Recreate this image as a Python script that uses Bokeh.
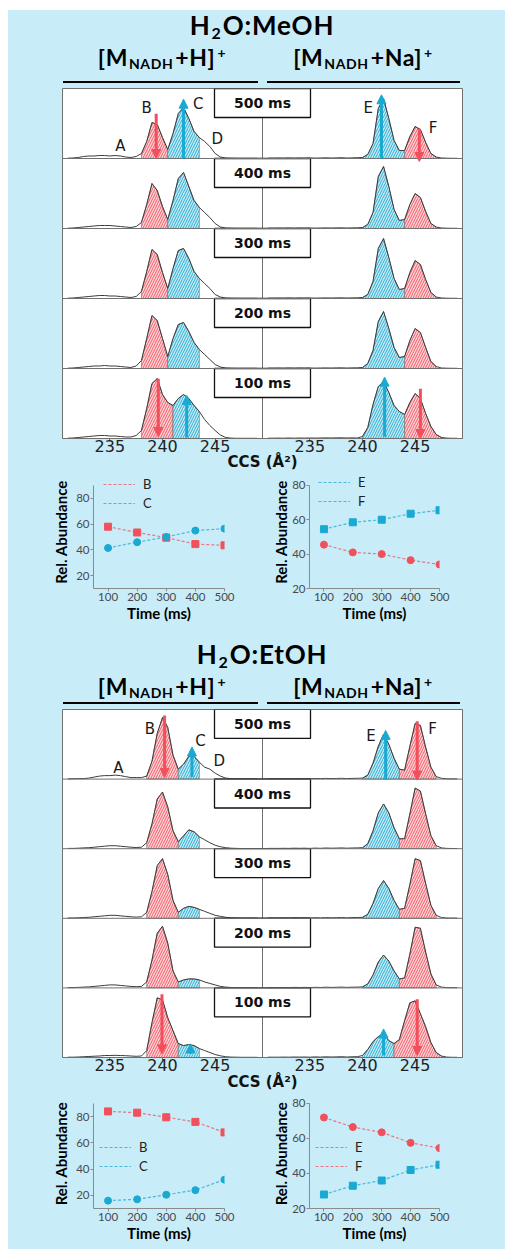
import numpy as np
from bokeh.plotting import figure
from bokeh.models import (Range1d, FixedTicker, ColumnDataSource, Arrow, NormalHead,
                          Legend, LegendItem, Div, Spacer, Span, CDSView, IndexFilter)
from bokeh.layouts import column, row
from bokeh.embed import file_html
from bokeh.resources import INLINE
from bokeh.core.properties import value

BG = "#c9ecf9"
RED = "#f24f5c"
BLUE = "#19a9d2"
RED_FILL = "#fcd3d6"
BLUE_FILL = "#c6eaf4"
TRACE = "#3c3c3c"

# ---------------- data ----------------
ccs = [231.0, 231.5, 232.0, 232.5, 233.0, 233.5, 234.0, 234.5, 235.0, 235.5,
       236.0, 236.5, 237.0, 237.5, 238.0, 238.5, 239.0, 239.5, 240.0, 240.5,
       241.0, 241.5, 242.0, 242.5, 243.0, 243.5, 244.0, 244.5, 245.0, 245.5,
       246.0, 246.5, 247.0, 247.5, 248.0, 248.5, 249.0]
ccs_ticks = [235, 240, 245]
time_labels = ["500 ms", "400 ms", "300 ms", "200 ms", "100 ms"]
time_ms = [100, 200, 300, 400, 500]

# H2O:MeOH  [M+H]+  (rows 500..100 ms)
meoh_h_500 = [0.3,0.5,1,2,2.5,2.5,3,3,2.5,3,2.5,1.5,1,2,5,17,36,34,21,9,25,45,51,40,27,21,17,12,5,1.5,0.5,0.3,0.2,0.2,0.2,0.2,0.2]
meoh_h_400 = [0.3,0.5,1,1.5,2,2.5,3,3,3,2.5,2,1.5,1,2,6,24,45,38,22,9,28,50,56,42,28,21,16,11,5,1.5,0.5,0.3,0.2,0.2,0.2,0.2,0.2]
meoh_h_300 = [0.3,0.5,1,1.5,2,2.5,3,3,2.5,2.5,2,1.5,1,2,7,27,49,44,26,10,30,48,50,40,27,20,15,10,4,1.5,0.5,0.3,0.2,0.2,0.2,0.2,0.2]
meoh_h_200 = [0.3,0.5,1,1.5,2,2.5,2.5,3,2.5,2.5,2,1.5,1,2.5,8,30,53,48,30,12,30,44,46,37,26,19,14,9,4,1.5,0.5,0.3,0.2,0.2,0.2,0.2,0.2]
meoh_h_100 = [0.3,0.5,1,1.5,2,2.5,3,3,2.5,2.5,2,1.5,1.5,3,8,30,55,60,44,36,33,40,44,40,33,27,19,13,8,3.5,1,0.4,0.2,0.2,0.2,0.2,0.2]
# H2O:MeOH  [M+Na]+
meoh_na_500 = [0.3,0.3,0.4,0.3,0.5,0.3,0.5,0.4,0.6,0.4,0.5,0.7,0.5,0.6,0.8,0.5,0.6,0.8,1,4,15,50,60,40,18,8,8,22,32,29,16,5,1.5,0.5,0.3,0.2,0.2]
meoh_na_400 = [0.3,0.3,0.4,0.3,0.5,0.3,0.5,0.4,0.5,0.4,0.5,0.6,0.5,0.6,0.7,0.5,0.6,0.7,1,4,16,52,62,42,19,8,9,24,35,31,17,5,1.5,0.5,0.3,0.2,0.2]
meoh_na_300 = [0.3,0.3,0.4,0.3,0.5,0.3,0.5,0.4,0.5,0.4,0.5,0.6,0.5,0.6,0.7,0.5,0.6,0.7,1,4,17,50,60,41,20,9,10,26,38,34,19,6,1.5,0.5,0.3,0.2,0.2]
meoh_na_200 = [0.3,0.3,0.4,0.3,0.5,0.3,0.5,0.4,0.5,0.4,0.5,0.6,0.5,0.6,0.7,0.5,0.6,0.7,1,5,18,47,57,40,21,11,12,28,40,36,21,7,2,0.5,0.3,0.2,0.2]
meoh_na_100 = [0.3,0.3,0.4,0.3,0.5,0.3,0.5,0.4,0.5,0.4,0.5,0.6,0.5,0.6,0.7,0.5,0.6,0.5,2,11,34,52,57,46,33,27,24,36,45,40,25,12,4,1,0.4,0.2,0.2]
# H2O:EtOH  [M+H]+
etoh_h_500 = [0.3,0.3,0.5,0.5,1,2,3,3.5,3.5,4,3.5,2.5,1.5,1.5,1.5,3,18,46,62,52,24,10,15,23,23,17,12,10,6,3,1,0.5,0.3,0.2,0.2,0.2,0.2]
etoh_h_400 = [0.3,0.3,0.5,0.8,1,1.5,2,2.5,3,3,2.5,2,1.5,1.2,1.5,6,25,50,57,42,18,7,13,19,17,12,9,6,3.5,2,1,0.5,0.3,0.2,0.2,0.2,0.2]
etoh_h_300 = [0.3,0.3,0.5,0.8,1,1.5,2,2.5,3,3,2.5,2,1.5,1.2,1.5,6,27,53,60,44,18,6,10,12,11,9,7,5,3,2,1,0.5,0.3,0.2,0.2,0.2,0.2]
etoh_h_200 = [0.3,0.3,0.5,0.8,1,1.5,2,2.5,3,3,2.5,2,1.5,1.2,1.5,6,28,55,62,45,17,6,8,9,9,8,6,4.5,3,1.5,0.8,0.4,0.3,0.2,0.2,0.2,0.2]
etoh_h_100 = [0.3,0.3,0.5,0.8,1,1.3,1.5,2,2,2.2,2,1.8,1.5,1.2,1.5,7,35,60,58,40,27,14,12,13,12,9,7,5,3,1.7,0.8,0.4,0.3,0.2,0.2,0.2,0.2]
# H2O:EtOH  [M+Na]+
etoh_na_500 = [0.3,0.3,0.3,0.4,0.3,0.5,0.4,0.5,0.3,0.6,0.4,0.7,0.5,0.6,0.8,0.5,0.7,0.8,1,4,16,33,45,35,21,10,9,33,56,54,32,12,2.5,0.8,0.3,0.2,0.2]
etoh_na_400 = [0.3,0.3,0.3,0.4,0.3,0.5,0.4,0.5,0.3,0.6,0.4,0.7,0.5,0.6,0.8,0.5,0.7,0.8,1,5,18,36,45,36,21,10,10,35,61,58,35,13,3,0.8,0.3,0.2,0.2]
etoh_na_300 = [0.3,0.3,0.3,0.4,0.3,0.5,0.4,0.5,0.3,0.6,0.4,0.7,0.5,0.6,0.8,0.5,0.7,0.8,1,4,15,30,38,30,18,9,10,34,60,58,35,13,3,0.8,0.3,0.2,0.2]
etoh_na_200 = [0.3,0.3,0.3,0.4,0.3,0.5,0.4,0.5,0.3,0.6,0.4,0.7,0.5,0.6,0.8,0.5,0.7,0.8,1,4,13,26,33,27,17,9,10,34,61,60,36,14,3,0.8,0.3,0.2,0.2]
etoh_na_100 = [0.3,0.3,0.3,0.4,0.3,0.5,0.4,0.5,0.3,0.6,0.4,0.7,0.5,0.6,0.8,0.5,0.7,0.8,2,8,16,21,24,17,14,18,37,55,57,44,31,15,5,1.5,0.4,0.2,0.2]

# integration windows (first region start, boundary, second region end) per row
meoh_h_bounds = [(238.0, 240.5, 243.5)] * 4 + [(238.0, 241.0, 243.5)]
meoh_na_bounds = [(240.0, 244.0, 247.0)] * 4 + [(240.0, 244.0, 247.5)]
etoh_h_bounds = [(238.5, 241.5, 243.5)] * 5
etoh_na_bounds = [(240.0, 243.5, 247.0)] * 4 + [(240.0, 243.0, 247.5)]

# arrows: column (0 = H+, 1 = Na+), row index (0 = 500 ms), x, start, end, colour
meoh_arrow_col = [0, 0, 1, 1, 0, 0, 1, 1]
meoh_arrow_row = [0, 0, 0, 0, 4, 4, 4, 4]
meoh_arrow_x = [239.4, 242.0, 241.8, 245.4, 239.6, 242.3, 242.1, 245.5]
meoh_arrow_from = [44.7, 0.0, 0.0, 29.7, 59.7, 1.0, 1.7, 49.7]
meoh_arrow_to = [0.0, 59.3, 63.7, -3.0, 2.0, 43.0, 61.3, 0.0]
meoh_arrow_red = [True, False, False, True, True, False, False, True]
etoh_arrow_col = [0, 0, 1, 1, 0, 0, 1, 1]
etoh_arrow_row = [0, 0, 0, 0, 4, 4, 4, 4]
etoh_arrow_x = [240.2, 242.8, 242.2, 245.2, 239.95, 242.65, 242.0, 245.2]
etoh_arrow_from = [64.0, 2.0, -1.0, 58.3, 63.7, 3.7, 2.0, 58.7]
etoh_arrow_to = [1.7, 32.3, 49.0, -1.0, 3.7, 13.7, 28.7, 2.0]
etoh_arrow_red = [True, False, False, True, True, False, False, True]

peak_letters = ["A", "B", "C", "D", "E", "F"]
letter_col = [0, 0, 0, 0, 1, 1]
meoh_letter_x = [236.0, 238.5, 243.4, 245.2, 240.55, 246.7]
meoh_letter_y = [13.0, 51.0, 55.0, 20.0, 51.0, 31.0]
etoh_letter_x = [235.8, 238.8, 243.6, 245.4, 240.8, 246.65]
etoh_letter_y = [10.7, 50.7, 38.3, 18.3, 43.0, 50.7]

# relative abundances vs time
meoh_B = [58, 53.5, 49.5, 44.5, 43.5]
meoh_C = [41.5, 46, 50, 55, 56.5]
meoh_E = [54.5, 58.5, 60, 63.5, 65.5]
meoh_F = [45.5, 41, 40, 36.5, 34]
etoh_B = [84, 83, 79.5, 76, 68]
etoh_C = [16, 17, 20.5, 24, 32]
etoh_E = [28, 33, 36, 42, 45]
etoh_F = [72, 66.5, 63.5, 57.5, 54.5]

# ---------------- drawing ----------------
ROW_H = 70.0
X_LO, X_HI = 230.5, 249.5
SHIFT = X_HI - X_LO


def mobilogram(left_rows, right_rows, left_bounds, right_bounds,
               a_col, a_row, a_x, a_from, a_to, a_red, l_x, l_y, frame_h, bottom, lab_standoff):
    p = figure(width=497, height=frame_h + bottom,
               x_range=Range1d(X_LO, X_HI + SHIFT), y_range=Range1d(0, 5 * ROW_H),
               output_backend="svg", toolbar_location=None, y_axis_location=None,
               min_border_left=54, min_border_right=43, min_border_top=0,
               min_border_bottom=bottom)
    p.border_fill_color = BG
    p.background_fill_color = "white"
    p.outline_line_color = "#707070"
    p.grid.visible = False
    x = np.array(ccs)
    fills = {"r": (RED_FILL, RED), "b": (BLUE_FILL, BLUE)}
    for col, rows, bounds, cols in ((0, left_rows, left_bounds, ("r", "b")),
                                    (1, right_rows, right_bounds, ("b", "r"))):
        for r, (h, bd) in enumerate(zip(rows, bounds)):
            base = (4 - r) * ROW_H
            y = base + np.array(h, dtype=float)
            for k in range(2):
                lo, hi = bd[k], bd[k + 1]
                m = (x >= lo - 1e-9) & (x <= hi + 1e-9)
                px = np.concatenate([[lo], x[m], [hi]]) + col * SHIFT
                py = np.concatenate([[base], y[m], [base]])
                fc, hc = fills[cols[k]]
                p.patch(px, py, fill_color=fc, hatch_pattern="/", hatch_color=hc,
                        hatch_scale=5, hatch_weight=1.0, hatch_alpha=0.9,
                        line_color="#555555", line_width=0.7, line_alpha=0.7)
            p.line(x + col * SHIFT, y, line_color=TRACE, line_width=1.0)
    for k in range(1, 5):
        p.add_layout(Span(location=k * ROW_H, dimension="width",
                          line_color="#707070", line_width=1))
    bases = [(4 - r) * ROW_H for r in range(5)]
    tops = [(5 - r) * ROW_H for r in range(5)]
    p.segment(x0=[X_HI] * 5, y0=bases, x1=[X_HI] * 5, y1=[t - 29 for t in tops],
              line_color="#707070", line_width=1)
    p.rect(x=[X_HI] * 5, y=[t - 14.5 for t in tops], width=96, height=29,
           width_units="screen", height_units="screen",
           fill_color="white", line_color="#111111", line_width=1.3)
    p.text(x=[X_HI] * 5, y=[t - 14.5 for t in tops], text=time_labels,
           text_align="center", text_baseline="middle",
           text_font=value("DejaVu Sans"), text_font_style="bold",
           text_font_size="14px", text_color="#111111")
    for want_red, color in ((True, RED), (False, BLUE)):
        idx = [i for i in range(len(a_x)) if a_red[i] == want_red]
        src = ColumnDataSource(dict(
            x=[a_x[i] + a_col[i] * SHIFT for i in idx],
            y0=[(4 - a_row[i]) * ROW_H + a_from[i] for i in idx],
            y1=[(4 - a_row[i]) * ROW_H + a_to[i] for i in idx]))
        p.add_layout(Arrow(end=NormalHead(size=9, fill_color=color, line_color=color),
                           x_start="x", y_start="y0", x_end="x", y_end="y1",
                           line_color=color, line_width=3, source=src))
    p.text(x=[l_x[i] + letter_col[i] * SHIFT for i in range(6)],
           y=[4 * ROW_H + l_y[i] for i in range(6)], text=peak_letters,
           text_align="center", text_baseline="middle",
           text_font=value("DejaVu Sans"), text_font_size="15px", text_color="#1a1a1a")
    ax = p.xaxis[0]
    ax.ticker = FixedTicker(ticks=ccs_ticks + [t + SHIFT for t in ccs_ticks], minor_ticks=[])
    ax.major_label_overrides = {t + SHIFT: str(t) for t in ccs_ticks}
    ax.axis_line_color = "#707070"
    ax.major_tick_line_color = "#707070"
    ax.major_tick_out = 3
    ax.major_tick_in = 0
    ax.major_label_standoff = -2
    ax.major_label_text_font = "DejaVu Sans"
    ax.major_label_text_font_size = "16px"
    ax.major_label_text_color = "#222222"
    ax.axis_label = "CCS (Å²)"
    ax.axis_label_text_font = "DejaVu Sans"
    ax.axis_label_text_font_style = "bold"
    ax.axis_label_text_font_size = "15px"
    ax.axis_label_text_color = "#111111"
    ax.axis_label_standoff = lab_standoff
    return p


def scatter_panel(width, height, yr, axis_px, bl, br, bb, series, leg_xy, ylab_standoff):
    # frame starts 1px below the canvas top so the legend (above the axis top) stays visible
    frame_h = height - 1 - bb
    y_hi = yr[0] + (yr[1] - yr[0]) * frame_h / axis_px
    p = figure(width=width, height=height, x_range=Range1d(50, 500), y_range=Range1d(yr[0], y_hi),
               output_backend="svg", toolbar_location=None,
               min_border_left=bl, min_border_right=br, min_border_top=1, min_border_bottom=bb)
    p.border_fill_color = BG
    p.background_fill_color = BG
    p.outline_line_color = None
    p.grid.visible = False
    items = []
    for vals, data_marker, leg_marker, color, label in series:
        ln = p.line(time_ms, vals, line_color=color, line_dash="3 2", line_width=1.2, line_alpha=0.75)
        p.scatter(time_ms, vals, marker=data_marker, size=7, fill_color=color, line_color=color)
        # legend-only marker renderer (its single row is filtered out, so nothing is plotted)
        src = ColumnDataSource(dict(x=time_ms[:1], y=vals[:1]))
        dummy = p.scatter("x", "y", source=src, view=CDSView(filter=IndexFilter(indices=[])),
                          marker=leg_marker, size=7, fill_color=color, line_color=color)
        items.append(LegendItem(label=label, renderers=[ln, dummy]))
    leg = Legend(items=items, location=leg_xy, glyph_width=32, glyph_height=16, spacing=3,
                 padding=0, margin=0, label_standoff=8, label_text_font="Lato",
                 label_text_font_size="13px", label_text_color="#222222",
                 background_fill_alpha=0, border_line_alpha=0)
    p.add_layout(leg)
    p.xaxis.ticker = FixedTicker(ticks=time_ms, minor_ticks=[])
    p.yaxis.ticker = FixedTicker(ticks=[20, 40, 60, 80], minor_ticks=[])
    p.yaxis.bounds = (yr[0], yr[1])
    for ax in (p.xaxis[0], p.yaxis[0]):
        ax.axis_line_color = "#8a8a8a"
        ax.major_tick_line_color = "#8a8a8a"
        ax.major_tick_out = 3
        ax.major_tick_in = 0
        ax.major_label_standoff = 1
        ax.major_label_text_font = "Lato"
        ax.major_label_text_font_size = "11.5px"
        ax.major_label_text_color = "#4a4a4a"
        ax.axis_label_text_font = "Lato"
        ax.axis_label_text_font_style = "bold"
        ax.axis_label_text_font_size = "15px"
        ax.axis_label_text_color = "#000000"
    p.xaxis.axis_label = "Time (ms)"
    p.xaxis.axis_label_standoff = 0
    p.yaxis.axis_label = "Rel. Abundance"
    p.yaxis.axis_label_standoff = ylab_standoff
    return p


def header(title_html, h, title_top, sub_top):
    hs = ("position:absolute;width:200px;text-align:center;font-weight:bold;letter-spacing:0.6px;"
          "font-size:23px;line-height:1.2;top:%dpx;" % sub_top)
    sb = '<sub style="font-size:14px;vertical-align:-3px;line-height:1;margin:0 2px 0 1px;">NADH</sub>'
    sp = '<sup style="font-size:14px;vertical-align:8px;line-height:1;margin-left:2px;">+</sup>'
    html = (
        f'<div style="position:relative;width:497px;height:{h}px;font-family:Lato,sans-serif;color:#000;">'
        f'<div style="position:absolute;left:54px;width:400px;top:{title_top}px;text-align:center;'
        f'font-weight:bold;font-size:26px;letter-spacing:0.8px;line-height:1.2;">{title_html}</div>'
        f'<div style="{hs}left:54px;">[M{sb}+H]{sp}</div>'
        f'<div style="{hs}left:255px;">[M{sb}+Na]{sp}</div>'
        f'<div style="position:absolute;left:55px;width:195px;top:{h - 7}px;height:2px;background:#000;"></div>'
        f'<div style="position:absolute;left:259px;width:193px;top:{h - 7}px;height:2px;background:#000;"></div>'
        '</div>')
    return Div(text=html, width=497, height=h, margin=0, styles={"background-color": BG})


sub2 = '<sub style="font-size:16px;vertical-align:-4px;line-height:1;margin:0 1px;">2</sub>'
hdr1 = header(f"H{sub2}O:MeOH", 78, 0, 34)
mob1 = mobilogram([meoh_h_500, meoh_h_400, meoh_h_300, meoh_h_200, meoh_h_100],
                  [meoh_na_500, meoh_na_400, meoh_na_300, meoh_na_200, meoh_na_100],
                  meoh_h_bounds, meoh_na_bounds,
                  meoh_arrow_col, meoh_arrow_row, meoh_arrow_x, meoh_arrow_from, meoh_arrow_to,
                  meoh_arrow_red, meoh_letter_x, meoh_letter_y, 350, 36, -2)
sc1L = scatter_panel(248, 158, (10, 90), 103, 85, 32, 44,
                     [(meoh_B, "square", "circle", RED, "B"), (meoh_C, "circle", "square", BLUE, "C")],
                     (10, 77), 3)
sc1R = scatter_panel(249, 158, (20, 80), 105, 53, 66, 42,
                     [(meoh_E, "square", "square", BLUE, "E"), (meoh_F, "circle", "circle", RED, "F")],
                     (9, 79), -1)
hdr2 = header(f"H{sub2}O:EtOH", 77, 7, 41)
mob2 = mobilogram([etoh_h_500, etoh_h_400, etoh_h_300, etoh_h_200, etoh_h_100],
                  [etoh_na_500, etoh_na_400, etoh_na_300, etoh_na_200, etoh_na_100],
                  etoh_h_bounds, etoh_na_bounds,
                  etoh_arrow_col, etoh_arrow_row, etoh_arrow_x, etoh_arrow_from, etoh_arrow_to,
                  etoh_arrow_red, etoh_letter_x, etoh_letter_y, 348, 40, -1)
sc2L = scatter_panel(248, 152, (10, 90), 105, 85, 32, 41,
                     [(etoh_B, "square", "circle", RED, "B"), (etoh_C, "circle", "square", BLUE, "C")],
                     (6, 34), 3)
sc2R = scatter_panel(249, 152, (20, 80), 106, 53, 66, 40,
                     [(etoh_E, "square", "square", BLUE, "E"), (etoh_F, "circle", "circle", RED, "F")],
                     (6, 34), -1)

blue = {"background-color": BG}
r1 = row(sc1L, sc1R, spacing=0, styles=blue)
r2 = row(sc2L, sc2R, spacing=0, styles=blue)
inner = column(hdr1, mob1, r1, hdr2, mob2, r2, spacing=0, styles=blue)
root = column(Spacer(width=513, height=10, margin=0),
              row(Spacer(width=8, height=1239, margin=0), inner, spacing=0), spacing=0)

with open("out.html", "w") as f:
    f.write(file_html(root, INLINE))
